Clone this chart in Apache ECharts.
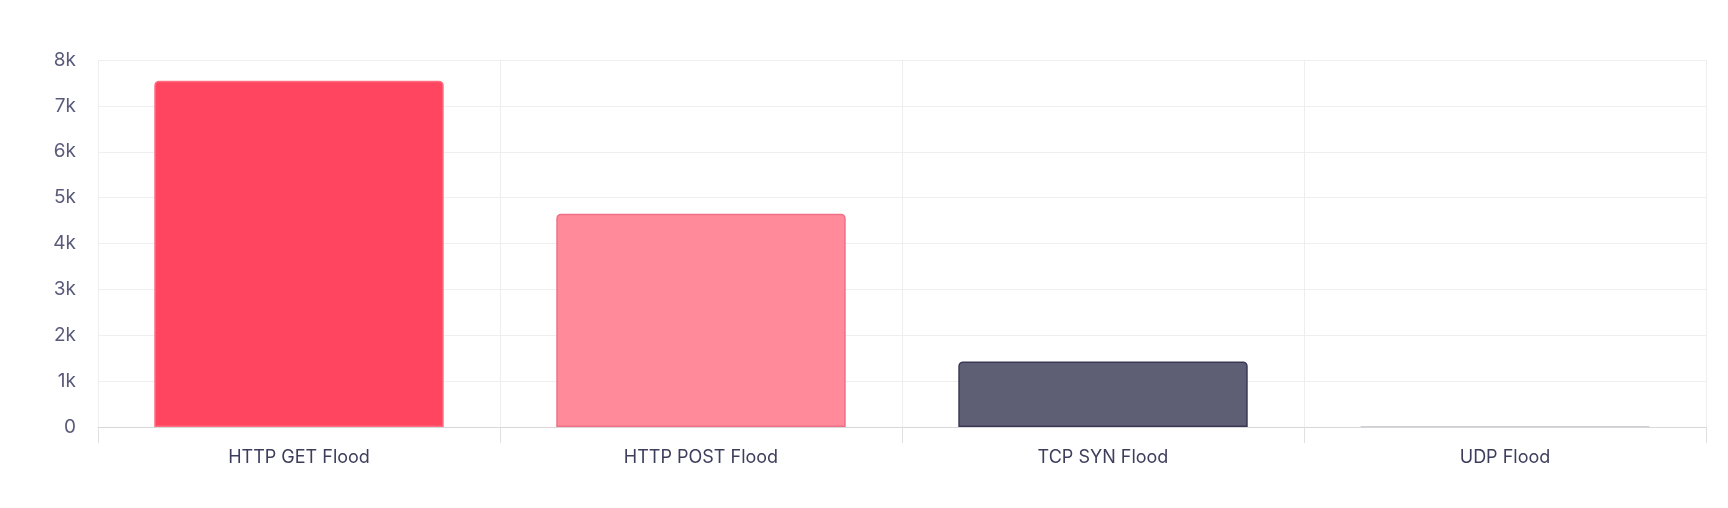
<!DOCTYPE html><html><head><meta charset="utf-8"><script src="https://cdn.jsdelivr.net/npm/echarts@6/dist/echarts.min.js"></script><style>html,body{margin:0;background:#fff}#c{width:1728px;height:508px}</style></head><body><div id="c"></div><script>
const categories=["HTTP GET Flood","HTTP POST Flood","TCP SYN Flood","UDP Flood"];
const values=[7550,4650,1430,15];
const fills=["#ff4560","#ff8a9a","#5e5e74","#d4d4d8"];
const borders=["#ff6b80","#f07088","#3a3a55","#cfcfd4"];
const yTicks=[0,1000,2000,3000,4000,5000,6000,7000,8000];
const chart=echarts.init(document.getElementById('c'));
chart.setOption({
 textStyle:{fontFamily:'Inter'},
 grid:{left:98,right:22,top:60,bottom:81},
 xAxis:{type:'category',data:categories,
  axisLine:{lineStyle:{color:'#d8d8d8'}},axisTick:{show:true,alignWithLabel:false,lineStyle:{color:'#e0e0e0'},length:16},
  splitLine:{show:true,lineStyle:{color:'#eeeeee'}},
  axisLabel:{color:'#3d3d5c',fontSize:18,margin:22}},
 yAxis:{type:'value',min:0,max:8000,interval:1000,
  axisLabel:{color:'#5a5a7a',fontSize:19,margin:22,formatter:v=>v===0?'0':(v/1000)+'k'},
  splitLine:{lineStyle:{color:'#efefef'}},axisLine:{show:false},axisTick:{show:false}},
 series:[{type:'bar',barWidth:'72%',
  data:values.map((v,i)=>({value:v,itemStyle:{color:fills[i],borderColor:borders[i],borderWidth:1.5,borderRadius:[4,4,0,0]}}))}]
});
</script></body></html>
